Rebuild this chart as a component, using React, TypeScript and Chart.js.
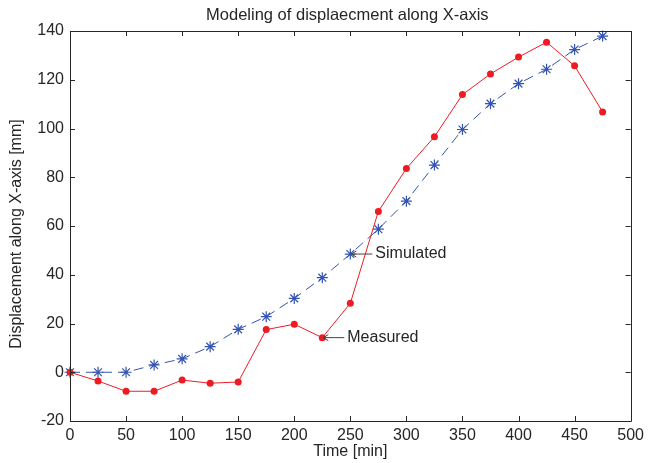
import React, { useEffect, useRef } from "react";
import { Chart, registerables } from "chart.js";

Chart.register(...registerables);

const timeMin = [0, 25, 50, 75, 100, 125, 150, 175, 200, 225, 250, 275, 300, 325, 350, 375, 400, 425, 450, 475];
const measured = [0, -3.6, -7.8, -7.8, -3.2, -4.5, -4, 17.5, 19.7, 14.2, 28.3, 66, 83.6, 96.6, 113.9, 122.4, 129.3, 135.4, 125.7, 106.8];
const simulated = [0, 0, 0, 3, 5.5, 10.5, 17.6, 22.8, 30.3, 38.8, 48.5, 58.7, 70.2, 85, 99.6, 110.2, 118.4, 124.3, 132.4, 137.9];
const xTicks = [0, 50, 100, 150, 200, 250, 300, 350, 400, 450, 500];
const yTicks = [-20, 0, 20, 40, 60, 80, 100, 120, 140];

const titleText = "Modeling of displaecment along X-axis";
const xTitle = "Time [min]";
const yTitle = "Displacement along X-axis [mm]";
const labelSimulated = "Simulated";
const labelMeasured = "Measured";

const FONT = '"Liberation Sans", Arial, sans-serif';
const TEXT = "#262626";
const RED = "rgb(237,28,36)";
const BLUE = "rgb(52,84,178)";

const framePlugin = {
  id: "matlabFrame",
  afterDraw(chart: any) {
    const { ctx, chartArea, scales } = chart;
    const { left, right, top, bottom } = chartArea;
    const x = scales.x;
    const y = scales.y;
    ctx.save();
    ctx.strokeStyle = TEXT;
    ctx.lineWidth = 1;
    ctx.beginPath();
    ctx.rect(Math.round(left) + 0.5, Math.round(top) + 0.5, Math.round(right - left), Math.round(bottom - top));
    ctx.stroke();
    const tl = 5;
    ctx.beginPath();
    xTicks.forEach((v) => {
      const px = Math.round(x.getPixelForValue(v)) + 0.5;
      ctx.moveTo(px, bottom);
      ctx.lineTo(px, bottom - tl);
      ctx.moveTo(px, top);
      ctx.lineTo(px, top + tl);
    });
    yTicks.forEach((v) => {
      const py = Math.round(y.getPixelForValue(v)) + 0.5;
      ctx.moveTo(left, py);
      ctx.lineTo(left + tl, py);
      ctx.moveTo(right, py);
      ctx.lineTo(right - tl, py);
    });
    ctx.stroke();

    // titles
    ctx.fillStyle = TEXT;
    ctx.textAlign = "center";
    ctx.textBaseline = "middle";
    ctx.font = "16.5px " + FONT;
    ctx.fillText(titleText, (left + right) / 2 - 3, 15);
    ctx.font = "16px " + FONT;
    ctx.fillText(xTitle, (left + right) / 2, 452);
    ctx.save();
    ctx.translate(17, 234);
    ctx.rotate(-Math.PI / 2);
    ctx.fillText(yTitle, 0, 0);
    ctx.restore();

    // annotations with arrows
    const annotate = (xv: number, yv: number, text: string) => {
      const px = x.getPixelForValue(xv);
      const py = y.getPixelForValue(yv);
      const hx = px + 1;
      const tailX = hx + 21;
      ctx.strokeStyle = "#444";
      ctx.lineWidth = 1;
      ctx.beginPath();
      ctx.moveTo(hx, py);
      ctx.lineTo(tailX, py);
      ctx.moveTo(hx + 5, py - 3);
      ctx.lineTo(hx, py);
      ctx.lineTo(hx + 5, py + 3);
      ctx.stroke();
      ctx.fillStyle = TEXT;
      ctx.textAlign = "left";
      ctx.textBaseline = "middle";
      ctx.font = "16px " + FONT;
      ctx.fillText(text, tailX + 3, py);
    };
    annotate(timeMin[10], simulated[10], labelSimulated);
    annotate(timeMin[9], measured[9], labelMeasured);
    ctx.restore();
  },
};

export default function App() {
  const ref = useRef<HTMLCanvasElement>(null);
  useEffect(() => {
    if (!ref.current) return;
    const chart = new Chart(ref.current, {
      type: "line",
      data: {
        datasets: [
          {
            label: labelMeasured,
            data: timeMin.map((t, i) => ({ x: t, y: measured[i] })),
            borderColor: RED,
            backgroundColor: RED,
            borderWidth: 1,
            pointStyle: "circle",
            pointRadius: 3.5,
            pointBorderWidth: 0,
            tension: 0,
          },
          {
            label: labelSimulated,
            data: timeMin.map((t, i) => ({ x: t, y: simulated[i] })),
            borderColor: BLUE,
            backgroundColor: BLUE,
            borderWidth: 1,
            borderDash: [10, 6],
            pointStyle: "star",
            pointRadius: 5.5,
            pointBorderWidth: 1.2,
            tension: 0,
          },
        ],
      },
      options: {
        animation: false,
        responsive: false,
        clip: false,
        layout: { padding: { top: 31, right: 15, left: 0, bottom: 0 } },
        plugins: { legend: { display: false }, title: { display: false }, tooltip: { enabled: false } },
        scales: {
          x: {
            type: "linear",
            min: 0,
            max: 500,
            afterFit: (s: any) => {
              s.height = 42;
            },
            afterBuildTicks: (s: any) => {
              s.ticks = xTicks.map((v) => ({ value: v }));
            },
            grid: { display: false, drawTicks: false },
            border: { display: false },
            ticks: { color: TEXT, font: { family: FONT, size: 16 }, padding: 5, maxRotation: 0, autoSkip: false },
          },
          y: {
            type: "linear",
            min: -20,
            max: 140,
            afterFit: (s: any) => {
              s.width = 70;
            },
            afterBuildTicks: (s: any) => {
              s.ticks = yTicks.map((v) => ({ value: v }));
            },
            grid: { display: false, drawTicks: false },
            border: { display: false },
            ticks: { color: TEXT, font: { family: FONT, size: 16 }, padding: 6, autoSkip: false },
          },
        },
      },
      plugins: [framePlugin],
    } as any);
    return () => chart.destroy();
  }, []);
  return (
    <div style={{ position: "fixed", left: 0, top: 0, width: 649, height: 463, background: "#fff" }}>
      <canvas ref={ref} width={649} height={463} style={{ display: "block" }} />
    </div>
  );
}
